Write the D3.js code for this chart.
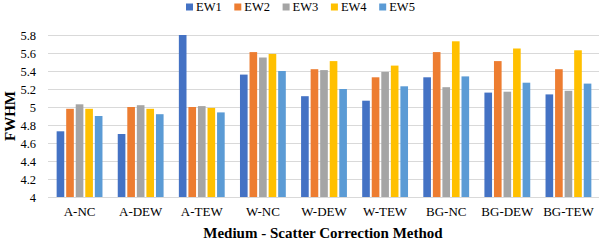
<!DOCTYPE html>
<html>
<head>
<meta charset="utf-8">
<script src="https://cdn.jsdelivr.net/npm/d3@7"></script>
<style>
body { margin: 0; background: #fff; }
svg text { font-family: "Liberation Serif", "Times New Roman", serif; fill: #000; }
</style>
</head>
<body>
<div id="chart"></div>
<script>
// categories and series
var categories = ["A-NC", "A-DEW", "A-TEW", "W-NC", "W-DEW", "W-TEW", "BG-NC", "BG-DEW", "BG-TEW"];
var seriesNames = ["EW1", "EW2", "EW3", "EW4", "EW5"];
var seriesColors = ["#4472C4", "#ED7D31", "#A5A5A5", "#FFC000", "#5B9BD5"];

// values per series, one per category
var ew1 = [4.73, 4.70, 5.80, 5.36, 5.12, 5.07, 5.33, 5.16, 5.14];
var ew2 = [4.98, 5.00, 5.00, 5.61, 5.42, 5.33, 5.61, 5.51, 5.42];
var ew3 = [5.03, 5.02, 5.01, 5.55, 5.41, 5.39, 5.22, 5.17, 5.18];
var ew4 = [4.98, 4.98, 4.99, 5.59, 5.51, 5.46, 5.73, 5.65, 5.63];
var ew5 = [4.90, 4.92, 4.94, 5.40, 5.20, 5.23, 5.34, 5.27, 5.26];

var yTicks = [4, 4.2, 4.4, 4.6, 4.8, 5, 5.2, 5.4, 5.6, 5.8];

var values = [ew1, ew2, ew3, ew4, ew5];

var width = 600,
	height = 243,
	margin = {top: 35, right: 1, bottom: 46, left: 49};

var svg = d3.select("#chart")
	.append("svg")
	.attr("width", width)
	.attr("height", height);

var x0 = d3.scaleBand()
	.domain(categories)
	.range([margin.left, width - margin.right])
	.paddingInner(0.25)
	.paddingOuter(0.125);

var x1 = d3.scaleBand()
	.domain(seriesNames)
	.range([0, x0.bandwidth()])
	.paddingInner(0.2)
	.paddingOuter(0);

var y = d3.scaleLinear()
	.domain([4, 5.8])
	.range([height - margin.bottom, margin.top]);

// gridlines
svg.append("g")
	.selectAll("line")
	.data(yTicks)
	.enter().append("line")
	.attr("x1", margin.left - 1)
	.attr("x2", width - margin.right)
	.attr("y1", function(d) { return Math.round(y(d)) + 0.5; })
	.attr("y2", function(d) { return Math.round(y(d)) + 0.5; })
	.style("stroke", "#d9d9d9")
	.style("stroke-width", 1);

// y axis labels
var yAxis = d3.axisLeft(y)
	.tickValues(yTicks)
	.tickSize(0)
	.tickPadding(13)
	.tickFormat(function(d) { return d3.format("")(+d.toFixed(1)); });

svg.append("g")
	.attr("transform", "translate(" + margin.left + ",0)")
	.call(yAxis)
	.attr("font-family", "Liberation Serif")
	.attr("font-size", 12.5)
	.call(function(g) { g.select(".domain").remove(); })
	.selectAll("text")
	.style("fill", "#000");

// bars
var groups = svg.append("g")
	.selectAll("g")
	.data(categories)
	.enter().append("g")
	.attr("transform", function(d) { return "translate(" + x0(d) + ",0)"; });

groups.selectAll("rect")
	.data(function(d, i) {
		return seriesNames.map(function(s, j) { return {series: s, value: values[j][i], color: seriesColors[j]}; });
	})
	.enter().append("rect")
	.attr("x", function(d) { return x1(d.series); })
	.attr("width", x1.bandwidth())
	.attr("y", function(d) { return y(d.value); })
	.attr("height", function(d) { return y(4) - y(d.value); })
	.style("fill", function(d) { return d.color; });

// x axis labels
var xAxis = d3.axisBottom(x0)
	.tickSize(0)
	.tickPadding(10);

svg.append("g")
	.attr("transform", "translate(0," + (height - margin.bottom) + ")")
	.call(xAxis)
	.attr("font-family", "Liberation Serif")
	.attr("font-size", 13)
	.call(function(g) { g.select(".domain").remove(); })
	.selectAll("text")
	.style("fill", "#000");

// axis titles
svg.append("text")
	.attr("x", 323)
	.attr("y", 238)
	.attr("text-anchor", "middle")
	.style("font-size", "15px")
	.style("font-weight", "bold")
	.text("Medium - Scatter Correction Method");

svg.append("text")
	.attr("transform", "translate(14.5," + ((margin.top + height - margin.bottom) / 2) + ") rotate(-90)")
	.attr("text-anchor", "middle")
	.style("font-size", "15px")
	.style("font-weight", "bold")
	.text("FWHM");

// legend
var legend = svg.append("g")
	.selectAll("g")
	.data(seriesNames)
	.enter().append("g")
	.attr("transform", function(d, i) { return "translate(" + (186 + i * 48.3) + ",3)"; });

legend.append("rect")
	.attr("width", 7)
	.attr("height", 7)
	.attr("y", 0.5)
	.style("fill", function(d, i) { return seriesColors[i]; });

legend.append("text")
	.attr("x", 10)
	.attr("y", 8)
	.style("font-size", "12.5px")
	.text(function(d) { return d; });
</script>
</body>
</html>
